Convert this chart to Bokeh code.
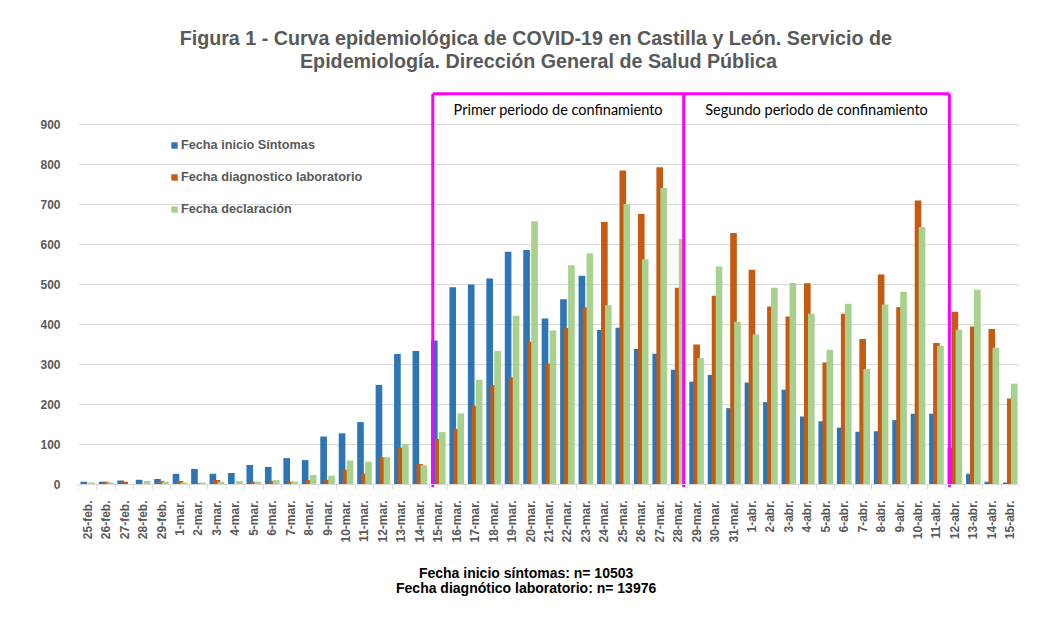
import numpy as np
from bokeh.plotting import figure
from bokeh.models import Range1d, FixedTicker, Legend, LegendItem, Label
from bokeh.embed import file_html
from bokeh.resources import INLINE

categories = (["25-feb.", "26-feb.", "27-feb.", "28-feb.", "29-feb."]
              + [f"{d}-mar." for d in range(1, 32)]
              + [f"{d}-abr." for d in range(1, 16)])

sintomas = [7, 7, 10, 12, 14, 27, 39, 27, 29, 49, 44, 66, 61, 120, 128, 156, 249, 326, 334,
            360, 493, 500, 515, 582, 586, 415, 463, 522, 386, 392, 339, 327, 287,
            257, 274, 191, 255, 206, 237, 170, 158, 142, 132, 133, 161, 177, 177, 91, 27, 7, 5]
laboratorio = [2, 7, 7, 0, 8, 9, 4, 11, 0, 7, 9, 7, 11, 12, 37, 27, 68, 92, 51,
               114, 139, 197, 249, 268, 357, 302, 391, 443, 656, 785, 676, 793, 492,
               350, 472, 629, 537, 445, 420, 503, 305, 427, 364, 525, 443, 710, 354, 432, 395, 389, 215]
declaracion = [5, 5, 0, 9, 6, 5, 5, 7, 9, 7, 11, 7, 24, 22, 60, 57, 68, 101, 48,
               131, 178, 262, 334, 422, 658, 385, 548, 578, 448, 701, 563, 741, 614,
               316, 545, 407, 375, 492, 504, 427, 337, 452, 289, 450, 482, 644, 347, 387, 487, 342, 252]
y_ticks = [0, 100, 200, 300, 400, 500, 600, 700, 800, 900]

series_names = ["Fecha inicio Síntomas", "Fecha diagnostico laboratorio", "Fecha declaración"]
colors = ["#2E75B6", "#C55A11", "#A9D18E"]

title_lines = ["Figura 1 - Curva epidemiológica de COVID-19 en Castilla y León.  Servicio de",
               "Epidemiología. Dirección General de Salud Pública"]
footer_lines = ["Fecha inicio síntomas: n= 10503", "Fecha diagnótico laboratorio: n= 13976"]
period_labels = ["Primer periodo de confinamiento", "Segundo periodo de confinamiento"]
period_bounds = ["15-mar.", "28-mar.", "12-abr."]

n = len(categories)
xs = np.arange(n)

# frame spans the whole canvas height; the x axis sits at y = 0
p = figure(width=1045, height=611, output_backend="svg", toolbar_location=None,
           x_range=Range1d(-0.5, n - 0.5), y_range=Range1d(-317.5, 1185),
           min_border_left=78, min_border_right=26, min_border_top=10, min_border_bottom=0)
p.outline_line_color = None
p.background_fill_color = "white"

# bars
offsets = [-0.216, 0.0, 0.216]
renderers = []
for vals, col, off in zip([sintomas, laboratorio, declaracion], colors, offsets):
    r = p.vbar(x=xs + off, top=vals, bottom=0, width=0.36, fill_color=col, line_color=None)
    renderers.append(r)

# axes
p.xgrid.grid_line_color = None
p.ygrid.grid_line_color = "#D9D9D9"
p.ygrid.ticker = FixedTicker(ticks=y_ticks)

p.yaxis.ticker = FixedTicker(ticks=y_ticks)
p.yaxis.axis_line_color = None
p.yaxis.major_tick_line_color = None
p.yaxis.minor_tick_line_color = None
p.yaxis.major_label_text_font = "Liberation Sans"
p.yaxis.major_label_text_font_style = "bold"
p.yaxis.major_label_text_font_size = "12px"
p.yaxis.major_label_text_color = "#595959"
p.yaxis.major_label_standoff = 12

p.xaxis.fixed_location = 0
p.xaxis.ticker = FixedTicker(ticks=list(range(n)), minor_ticks=[i - 0.5 for i in range(n + 1)])
p.xaxis.major_label_overrides = {i: c for i, c in enumerate(categories)}
p.xaxis.major_label_orientation = np.pi / 2
p.xaxis.axis_line_color = "#D9D9D9"
p.xaxis.major_tick_line_color = None
p.xaxis.minor_tick_line_color = "#D9D9D9"
p.xaxis.minor_tick_out = 5
p.xaxis.minor_tick_in = 0
p.xaxis.major_label_text_font = "Liberation Sans"
p.xaxis.major_label_text_font_style = "bold"
p.xaxis.major_label_text_font_size = "12px"
p.xaxis.major_label_text_color = "#595959"
p.xaxis.major_label_standoff = 10

# confinement boxes
b0 = categories.index(period_bounds[0]) - 0.3
b1 = categories.index(period_bounds[1]) + 0.3
b2 = categories.index(period_bounds[2]) - 0.3
top = 977
pink = "#FF00FF"
p.segment(x0=[b0, b1, b2, b0], y0=[-6, -6, -6, top], x1=[b0, b1, b2, b2], y1=[top, top, top, top],
          line_color=pink, line_width=3)
for lab, a, b in zip(period_labels, [b0, b1], [b1, b2]):
    p.add_layout(Label(x=(a + b) / 2, y=937, text=lab, text_align="center", text_baseline="middle",
                       text_font="Lato", text_font_size="14.5px", text_color="#000000"))

# legend
legend = Legend(items=[LegendItem(label=nm, renderers=[r]) for nm, r in zip(series_names, renderers)],
                location=(92, 392), padding=0, margin=0, spacing=12, label_height=20,
                glyph_width=8, glyph_height=8, label_standoff=3,
                border_line_color=None, background_fill_alpha=0,
                label_text_font="Liberation Sans", label_text_font_style="bold",
                label_text_font_size="12.7px", label_text_color="#595959")
p.add_layout(legend)

# title
for txt, yv in zip(title_lines, [1117, 1060]):
    p.add_layout(Label(x=24.43, y=yv, text=txt, text_align="center", text_baseline="middle",
                       text_font="Liberation Sans", text_font_style="bold",
                       text_font_size="19.7px", text_color="#595959"))

# footer
for txt, yv in zip(footer_lines, [-221, -259]):
    p.add_layout(Label(x=23.76, y=yv, text=txt, text_align="center", text_baseline="middle",
                       text_font="Liberation Sans", text_font_style="bold",
                       text_font_size="14px", text_color="#000000"))

open("out.html", "w").write(file_html(p, INLINE))
